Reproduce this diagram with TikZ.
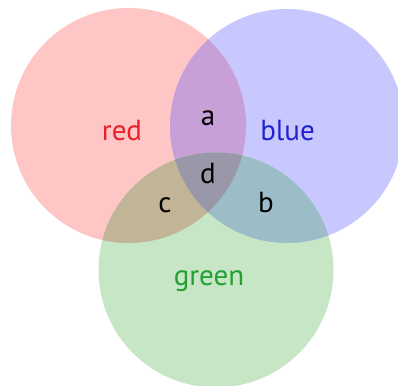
\documentclass[tikz,border=0pt]{standalone}
\usepackage{fontspec}
\setmainfont{PT Sans}
\definecolor{cR}{HTML}{FFC6C6}
\definecolor{cB}{HTML}{C8C8FF}
\definecolor{cG}{HTML}{C6E6C6}
\definecolor{cRB}{HTML}{C8A0D8}
\definecolor{cRG}{HTML}{C2B496}
\definecolor{cBG}{HTML}{9CBCC8}
\definecolor{cRGB}{HTML}{9A98A8}
\definecolor{tR}{HTML}{E8202A}
\definecolor{tB}{HTML}{2222CC}
\definecolor{tG}{HTML}{22A032}
\tikzset{lbl/.style={anchor=base,inner sep=0pt,font=\fontsize{29}{29}\selectfont}}
\begin{document}
\begin{tikzpicture}[x=1pt,y=-1pt]
\useasboundingbox (0,0) rectangle (398,385);
\def\rC{(128.5,125.5) circle[radius=117.5]}
\def\bC{(287,126) circle[radius=117]}
\def\gC{(216,270) circle[radius=117.5]}
\fill[cR] \rC;
\fill[cB] \bC;
\fill[cG] \gC;
\begin{scope}\clip \rC; \fill[cRB] \bC; \end{scope}
\begin{scope}\clip \rC; \fill[cRG] \gC; \end{scope}
\begin{scope}\clip \bC; \fill[cBG] \gC; \end{scope}
\begin{scope}\clip \rC; \clip \bC; \fill[cRGB] \gC; \end{scope}
\node[lbl,text=tR] (red) at (122,140) {red};
\node[lbl,text=tB] (blue) at (287.5,140) {blue};
\node[lbl,text=tG] (green) at (209,285) {green};
\node[lbl] (a) at (208,125) {a};
\node[lbl] (d) at (208,183) {d};
\node[lbl] (c) at (165,212) {c};
\node[lbl] (b) at (266,212) {b};
\end{tikzpicture}
\end{document}
